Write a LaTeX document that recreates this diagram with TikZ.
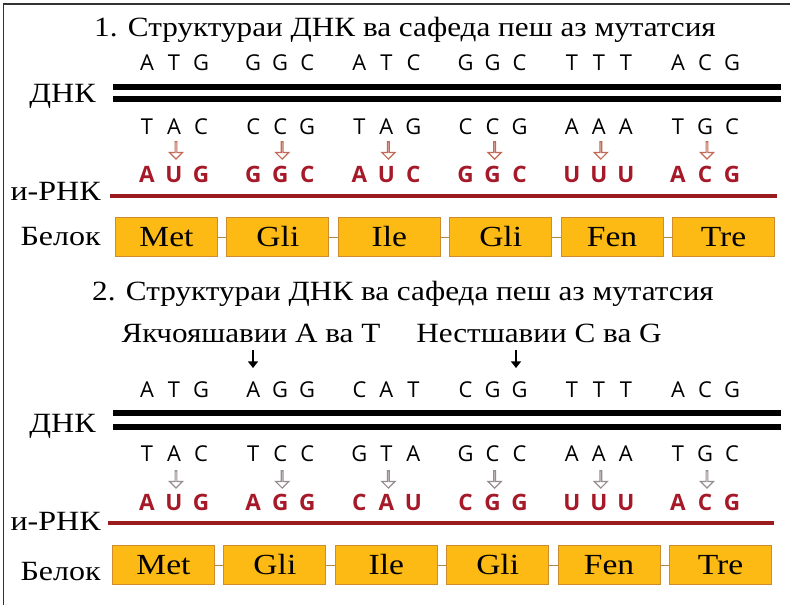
\documentclass[tikz,border=0pt]{standalone}
\usepackage{fontspec}
\setmainfont{Liberation Serif}
\newfontfamily\seqfont{Open Sans}
\usetikzlibrary{shapes.arrows,arrows.meta}

\definecolor{rnared}{RGB}{165,25,40}
\definecolor{rnaline}{RGB}{155,28,30}
\definecolor{boxfill}{RGB}{253,186,20}
\definecolor{boxedge}{RGB}{205,140,45}
\definecolor{hollowA}{RGB}{195,105,85}
\definecolor{hollowB}{RGB}{150,140,145}

\tikzset{
  title/.style={anchor=base, inner sep=0pt, xscale=1.12, font=\fontsize{21}{24}\selectfont},
  side/.style={anchor=base east, inner sep=0pt, xscale=1.15, font=\fontsize{21}{24}\selectfont},
  nuc/.style={anchor=base, inner sep=0pt, font=\seqfont\fontsize{16.5}{18}\selectfont},
  rna/.style={nuc, font=\seqfont\bfseries\fontsize{17}{19}\selectfont, text=rnared},
  hollow/.style={shape=single arrow, shape border rotate=270, draw, fill=white,
    line width=0.9pt, inner sep=0pt, minimum height=13pt, minimum width=10pt,
    single arrow head extend=3pt},
  aabox/.style={draw=boxedge, fill=boxfill, line width=0.8pt, minimum width=77pt,
    minimum height=30pt, inner sep=0pt},
  aatext/.style={inner sep=0pt, xscale=1.15, font=\fontsize{22}{24}\selectfont},
  link/.style={draw=boxedge!70!gray, line width=0.6pt},
  dnaline/.style={line width=3.8pt, black},
  mrnaline/.style={line width=3pt, rnaline},
  mutarrow/.style={line width=2.2pt, -{Triangle[length=5pt,width=7.5pt]}}
}

% one strand of letters: name, baseline, style, codons
\newcommand{\seqrow}[4]{%
  \foreach \a/\b/\c [count=\i] in {#4}{
    \node[#3] (#1\i a) at ({147+106.2*(\i-1)},#2) {\a};
    \node[#3] (#1\i b) at ({147+106.2*(\i-1)+27},#2) {\b};
    \node[#3] (#1\i c) at ({147+106.2*(\i-1)+54},#2) {\c};
  }}

% row of amino acid boxes: name, left x, top y
\newcommand{\protrow}[3]{%
  \foreach \aa [count=\i] in {Met,Gli,Ile,Gli,Fen,Tre}{
    \node[aabox] (#1\i) at ({#2+111.4*(\i-1)+51.5},{#3+20}) {};
    \node[aatext] (#1\i t) at (#1\i) {\aa};
  }
  \foreach \i [evaluate=\i as \j using int(\i+1)] in {1,...,5}{
    \draw[link] (#1\i) -- (#1\j);
  }}

\begin{document}
\begin{tikzpicture}[x=0.0265cm,y=-0.0265cm]
  \useasboundingbox (0,0) rectangle (790,605);
  \fill[white] (0,0) rectangle (790,605);
  \coordinate (fa) at (3.5,605);
  \coordinate (fb) at (3.5,4);
  \coordinate (fc) at (790,4);
  \draw[line width=1.3pt, black!80] (fa) -- (fb) -- (fc);

  % before mutation
  \node[title] (t1) at (405,36) {1. Структураи ДНК ва сафеда пеш аз мутатсия};
  \seqrow{up}{70}{nuc}{A/T/G,G/G/C,A/T/C,G/G/C,T/T/T,A/C/G}
  \coordinate (d1a) at (113,87);
  \coordinate (d1b) at (781,87);
  \coordinate (d1c) at (113,99);
  \coordinate (d1d) at (781,99);
  \draw[dnaline] (d1a) -- (d1b);
  \draw[dnaline] (d1c) -- (d1d);
  \node[side] (dna1) at (96,102) {ДНК};
  \seqrow{lo}{134}{nuc}{T/A/C,C/C/G,T/A/G,C/C/G,A/A/A,T/G/C}
  \foreach \i in {1,...,6}{
    \node[hollow, draw=hollowA] (ar\i) at ({147+106.2*(\i-1)+29},150) {};
  }
  \seqrow{rn}{182}{rna}{A/U/G,G/G/C,A/U/C,G/G/C,U/U/U,A/C/G}
  \coordinate (r1a) at (110,196);
  \coordinate (r1b) at (777,196);
  \draw[mrnaline] (r1a) -- (r1b);
  \node[side] (mrna1) at (101,200) {и-РНК};
  \node[side] (prot1) at (101,245) {Белок};
  \protrow{pa}{115}{217}

  % after mutation
  \node[title] (t2) at (403,300) {2. Структураи ДНК ва сафеда пеш аз мутатсия};
  \node[title] (mutA) at (251,342) {Якчояшавии А ва Т};
  \node[title] (mutB) at (539,342) {Нестшавии С ва G};
  \seqrow{upp}{397}{nuc}{A/T/G,A/G/G,C/A/T,C/G/G,T/T/T,A/C/G}
  \coordinate (m1a) at (253,350);
  \coordinate (m1b) at (253,368);
  \coordinate (m2a) at (516,350);
  \coordinate (m2b) at (516,368);
  \draw[mutarrow] (m1a) -- (m1b);
  \draw[mutarrow] (m2a) -- (m2b);
  \coordinate (d2a) at (113,413);
  \coordinate (d2b) at (781,413);
  \coordinate (d2c) at (113,427);
  \coordinate (d2d) at (781,427);
  \draw[dnaline] (d2a) -- (d2b);
  \draw[dnaline] (d2c) -- (d2d);
  \node[side] (dna2) at (96,432) {ДНК};
  \seqrow{low}{461}{nuc}{T/A/C,T/C/C,G/T/A,G/C/C,A/A/A,T/G/C}
  \foreach \i in {1,...,6}{
    \node[hollow, draw=hollowB] (br\i) at ({147+106.2*(\i-1)+29},479) {};
  }
  \seqrow{rnn}{510}{rna}{A/U/G,A/G/G,C/A/U,C/G/G,U/U/U,A/C/G}
  \coordinate (r2a) at (108,523);
  \coordinate (r2b) at (774,523);
  \draw[mrnaline] (r2a) -- (r2b);
  \node[side] (mrna2) at (101,530) {и-РНК};
  \node[side] (prot2) at (101,580) {Белок};
  \protrow{pb}{112}{545}
\end{tikzpicture}
\end{document}
